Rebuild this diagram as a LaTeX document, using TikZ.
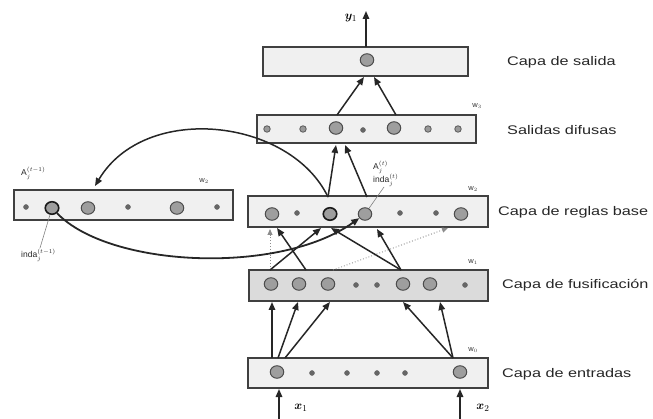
\documentclass[tikz,border=0pt]{standalone}
\usepackage{fontspec}
\setmainfont{Liberation Sans}
\usepackage{graphicx}
\usepackage{bm}
\usetikzlibrary{arrows.meta,shapes.geometric}
\begin{document}
\begin{tikzpicture}[x=1pt,y=-1pt,
  layer/.style={draw=black!75, line width=1.4pt, fill=black!6, inner sep=0, rectangle},
  big/.style={ellipse, draw=black!70, line width=1pt, fill=black!38, minimum width=13.5pt, minimum height=12.5pt, inner sep=0},
  bigd/.style={big, draw=black!90, line width=1.6pt},
  sm/.style={circle, fill=black!60, draw=black!60, minimum size=5pt, inner sep=0},
  med/.style={circle, draw=black!65, fill=black!40, minimum size=6.5pt, inner sep=0, line width=0.8pt},
  conn/.style={draw=black!85, line width=1.5pt, -{Triangle[length=8pt,width=6.5pt]}},
  dotconn/.style={draw=black!45, line width=0.9pt, dotted, -{Triangle[length=6pt,width=5pt]}},
  thin/.style={draw=black!50, line width=0.6pt},
  lbl/.style={anchor=west, inner sep=0, font=\fontsize{12.5}{14}\selectfont, text=black!85},
  wl/.style={inner sep=0, font=\fontsize{7.5}{8}\selectfont, text=black!80},
  al/.style={anchor=west, inner sep=0, font=\fontsize{8.5}{9}\selectfont, text=black!85},
  io/.style={inner sep=0, font=\fontsize{13}{15}\selectfont}]
\useasboundingbox (0,0) rectangle (653,419);

% layers
\node[layer, minimum width=205pt, minimum height=29pt] (sal) at (365.5,61.5) {};
\node[layer, minimum width=219pt, minimum height=28pt] (dif) at (366.5,129) {};
\node[layer, minimum width=240pt, minimum height=31pt] (reg) at (368,211.5) {};
\node[layer, minimum width=219pt, minimum height=30pt] (lft) at (123.5,205) {};
\node[layer, fill=black!14, minimum width=239pt, minimum height=31pt] (fus) at (368.5,285.5) {};
\node[layer, minimum width=240pt, minimum height=30pt] (ent) at (368,373) {};

% neurons
\node[big] (s1) at (367,60) {};

\node[med] (d1) at (267,129) {};
\node[med] (d2) at (303,129) {};
\node[big] (d3) at (336,128) {};
\node[sm]  (d4) at (363,130) {};
\node[big] (d5) at (394,128) {};
\node[med] (d6) at (428,129) {};
\node[med] (d7) at (458,129) {};

\node[big]  (r1) at (272,214) {};
\node[sm]   (r2) at (297,213) {};
\node[bigd] (r3) at (330,214) {};
\node[big]  (r4) at (365,214) {};
\node[sm]   (r5) at (400,213) {};
\node[sm]   (r6) at (436,213) {};
\node[big]  (r7) at (461,214) {};

\node[sm]   (l1) at (26,207) {};
\node[bigd] (l2) at (52,208) {};
\node[big]  (l3) at (88,208) {};
\node[sm]   (l4) at (128,207) {};
\node[big]  (l5) at (177,208) {};
\node[sm]   (l6) at (217,207) {};

\node[big] (f1) at (271,284) {};
\node[big] (f2) at (299,284) {};
\node[big] (f3) at (328,284) {};
\node[sm]  (f4) at (356,285) {};
\node[sm]  (f5) at (377,285) {};
\node[big] (f6) at (403,284) {};
\node[big] (f7) at (430,284) {};
\node[sm]  (f8) at (465,285) {};

\node[big] (e1) at (277,372) {};
\node[sm]  (e2) at (312,373) {};
\node[sm]  (e3) at (347,373) {};
\node[sm]  (e4) at (377,373) {};
\node[sm]  (e5) at (405,373) {};
\node[big] (e6) at (460,372) {};

% right labels
\node[lbl] (t1) at (507,62) {\scalebox{1.3}[1]{Capa de salida}};
\node[lbl] (t2) at (507,130) {\scalebox{1.3}[1]{Salidas difusas}};
\node[lbl] (t3) at (498,212) {\scalebox{1.3}[1]{Capa de reglas base}};
\node[lbl] (t4) at (502,285) {\scalebox{1.3}[1]{Capa de fusificación}};
\node[lbl] (t5) at (502,374) {\scalebox{1.3}[1]{Capa de entradas}};

% weight labels
\node[wl] (w3) at (477,106) {w$_3$};
\node[wl] (w2) at (473,189) {w$_2$};
\node[wl] (w1) at (473,262) {w$_1$};
\node[wl] (w0) at (473,350) {w$_0$};
\node[wl] (w2l) at (204,181) {w$_2$};

% A / inda labels
\node[al] (a1) at (21,173) {A$_j^{(t-1)}$};
\node[al] (i1) at (21,255) {inda$_j^{(t-1)}$};
\node[al] (a2) at (373,167) {A$_j^{(t)}$};
\node[al] (i2) at (373,180) {inda$_j^{(t)}$};
\coordinate (i1p) at (40,248);
\coordinate (i2p) at (384,187);
\draw[thin] (i1p) -- (l2);
\draw[thin] (i2p) -- (r4);

% inputs / outputs
\coordinate (x1s) at (279,419);
\coordinate (x1e) at (279,389);
\coordinate (x2s) at (460,419);
\coordinate (x2e) at (460,389);
\draw[conn] (x1s) -- (x1e);
\draw[conn] (x2s) -- (x2e);
\node[io] (x1l) at (301,408) {$\bm{x}_1$};
\node[io] (x2l) at (483,408) {$\bm{x}_2$};
\coordinate (ys) at (366,47);
\coordinate (ye) at (366,11);
\draw[conn] (ys) -- (ye);
\node[io] (yl) at (351,18) {$\bm{y}_1$};

% entradas -> fusificacion
\coordinate (ea) at (272,358);
\coordinate (eb) at (278,358);
\coordinate (ec) at (285,358);
\coordinate (ed) at (453,358);
\coordinate (fa) at (272,302);
\coordinate (fb) at (298,302);
\coordinate (fc) at (330,302);
\coordinate (fd) at (403,302);
\coordinate (fe) at (440,302);
\draw[conn] (ea) -- (fa);
\draw[conn] (eb) -- (fb);
\draw[conn] (ec) -- (fc);
\draw[conn] (ed) -- (fd);
\draw[conn] (ed) -- (fe);

% fusificacion -> reglas
\coordinate (ga) at (270,270);
\coordinate (gb) at (306,270);
\coordinate (gc) at (333,270);
\coordinate (gd) at (401,270);
\coordinate (ha) at (270,229);
\coordinate (hb) at (277,228);
\coordinate (hc) at (321,228);
\coordinate (hd) at (331,228);
\coordinate (he) at (377,229);
\coordinate (hf) at (448,228);
\draw[dotconn] (ga) -- (ha);
\draw[dotconn] (gc) -- (hf);
\draw[conn] (gb) -- (hb);
\draw[conn] (ga) -- (hc);
\draw[conn] (gd) -- (hd);
\draw[conn] (gd) -- (he);

% reglas -> salidas difusas
\coordinate (ra) at (328,197);
\coordinate (rb) at (367,197);
\coordinate (da) at (336,145);
\coordinate (db) at (345,145);
\draw[conn] (ra) -- (da);
\draw[conn] (rb) -- (db);

% salidas difusas -> salida
\coordinate (dA) at (337,115);
\coordinate (dB) at (396,115);
\coordinate (sA) at (364,77);
\coordinate (sB) at (374,77);
\draw[conn] (dA) -- (sA);
\draw[conn] (dB) -- (sB);

% recurrent curves
\coordinate (lt) at (95,186);
\draw[conn] (ra) .. controls (290,118) and (145,102) .. (lt);
\draw[conn, line width=1.8pt] (l2) .. controls (110,268) and (280,275) .. (r4);
\end{tikzpicture}
\end{document}
